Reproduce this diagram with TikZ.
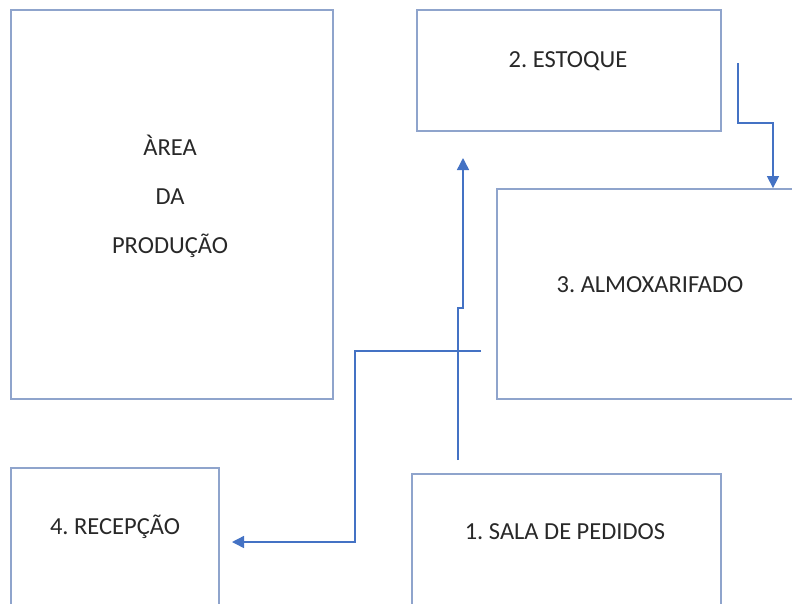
\documentclass[tikz,border=0pt]{standalone}
\usepackage{fontspec}
\setmainfont{Carlito}
\frenchspacing
\usetikzlibrary{arrows.meta}
\definecolor{boxline}{RGB}{143,164,204}
\definecolor{flow}{RGB}{68,114,196}
\definecolor{ink}{RGB}{40,40,40}
\tikzset{
  area/.style={draw=boxline, line width=1.8pt, inner sep=0pt},
  tag/.style={text=ink, font=\fontsize{24.5}{49}\selectfont, align=center},
  flowline/.style={draw=flow, line width=1.4pt, -{Triangle[length=12pt,width=12pt]}},
}
\begin{document}
\begin{tikzpicture}[x=1pt,y=-1pt]
\useasboundingbox (0,0) rectangle (792,603);
\clip (0,0) rectangle (792,603);
% areas
\node[area, minimum width=322pt, minimum height=389pt] (producao) at (172,204.5) {};
\node[area, minimum width=304pt, minimum height=121pt] (estoque) at (569,70.5) {};
\node[area, minimum width=306pt, minimum height=210pt] (almox) at (650,294) {};
\node[area, minimum width=208pt, minimum height=150pt] (recepcao) at (115,543) {};
\node[area, minimum width=309pt, minimum height=145pt] (pedidos) at (566.5,546.5) {};
% labels
\node[tag] (tprod) at (170,196) {ÀREA\\DA\\PRODUÇÃO};
\node[tag] (test) at (568,61) {2. ESTOQUE};
\node[tag] (talm) at (650,285) {3. ALMOXARIFADO};
\node[tag] (trec) at (115,527) {4. RECEPÇÃO};
\node[tag] (tped) at (565,532) {1. SALA DE PEDIDOS};
% flows
\coordinate (e1) at (738,63);
\coordinate (e2) at (773,123);
\coordinate (p1) at (458,460);
\coordinate (p2) at (463,308);
\coordinate (p3) at (463,158);
\coordinate (a1) at (481,351);
\coordinate (a2) at (355,542);
\coordinate (a3) at (232,542);
\draw[flowline] (e1) |- (e2) -- (e2 |- almox.north);
\draw[flowline] (p1) |- (p2) -- (p3);
\draw[flowline] (a1) -| (a2) -- (a3);
\end{tikzpicture}
\end{document}
